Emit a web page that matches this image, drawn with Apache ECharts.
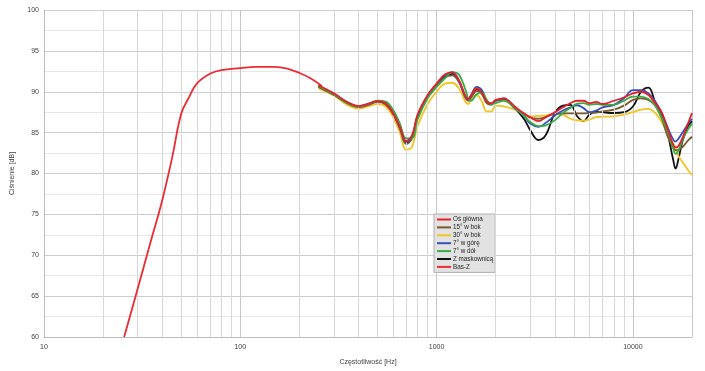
<!DOCTYPE html>
<html><head><meta charset="utf-8">
<script src="https://cdn.jsdelivr.net/npm/echarts@6/dist/echarts.min.js"></script>
<style>html,body{margin:0;padding:0;background:#fff}#c{width:705px;height:371px}</style>
</head><body><div id="c"></div>
<script>
// frequencies [Hz] shared by the measured-off-axis curves
var freqs = [250,300,350,400,450,500,550,600,650,700,750,800,900,1000,1100,1200,1300,1400,1450,1500,1600,1700,1800,1900,2000,2200,2500,2800,3000,3300,3600,4000,4400,4800,5200,5600,6000,6500,7000,8000,9000,10000,11000,12000,13000,14000,15000,16000,16500,17000,18000,19000,20000];
var osGlowna = [90.8,89.8,88.75,88.25,88.55,88.85,88.6,87.4,85.7,84.0,84.7,87.2,89.6,91.0,92.1,92.4,91.4,89.5,89.1,89.6,90.4,89.9,88.8,88.6,89.0,89.2,88.2,87.3,86.9,86.4,86.9,87.5,88.1,88.6,88.9,88.9,88.6,88.75,88.5,88.9,89.3,89.8,90.0,89.6,88.6,87.5,85.5,83.6,83.2,83.3,84.5,86.0,87.4];
var bok15 = [90.6,89.6,88.6,88.1,88.4,88.75,88.45,87.3,85.5,83.6,84.3,86.9,89.4,90.7,91.7,92.0,91.2,89.3,88.9,89.3,90.1,89.7,88.6,88.4,88.9,89.0,88.0,87.3,86.8,86.7,86.9,87.3,87.35,87.35,87.35,87.35,87.4,87.45,87.6,87.8,88.3,89.0,89.2,89.0,88.3,86.8,84.6,83.2,82.85,82.9,83.3,84.0,84.5];
var bok30 = [90.4,89.5,88.4,87.95,88.2,88.5,88.2,86.9,85.0,82.9,83.3,85.8,88.5,90.0,91.0,91.1,90.4,88.8,88.5,89.0,89.6,88.8,87.6,87.6,88.3,88.2,87.8,87.3,87.0,87.05,87.1,87.3,87.2,86.7,86.5,86.45,86.6,86.9,86.95,87.0,87.2,87.5,87.8,87.9,87.4,86.3,85.0,83.7,83.0,82.2,81.3,80.5,79.8];
var gora7 = [90.7,89.7,88.7,88.2,88.5,88.8,88.6,87.4,85.6,83.9,84.5,87.0,89.5,90.9,92.0,92.3,91.3,89.4,89.0,89.6,90.6,90.2,88.9,88.5,88.9,89.2,88.0,87.0,86.1,85.7,86.2,87.1,87.7,88.1,88.35,88.0,87.5,87.7,88.1,88.4,89.2,90.2,90.2,89.8,88.8,87.4,85.7,84.2,83.9,84.2,85.1,86.0,86.7];
var dol7 = [90.7,89.7,88.7,88.2,88.5,88.9,88.8,87.8,86.1,84.3,84.3,86.6,89.2,90.6,91.6,92.4,92.1,90.3,89.2,88.9,89.7,89.9,89.0,88.5,88.6,88.9,88.1,87.0,86.3,85.8,85.9,86.5,87.4,88.0,88.55,88.6,88.4,88.5,88.4,88.4,88.9,89.4,89.4,89.1,88.3,86.8,85.2,83.2,82.4,82.7,84.2,85.3,86.1];
var maskownica = [90.6,89.7,88.7,88.2,88.5,88.8,88.5,87.3,85.5,83.8,84.4,87.0,89.4,90.8,91.8,92.2,91.3,89.4,89.0,89.5,90.3,89.9,88.7,88.5,88.9,89.1,88.0,86.6,85.3,84.1,84.7,87.4,88.3,88.4,87.0,86.4,87.2,87.6,87.5,87.4,87.5,88.2,90.0,90.5,88.7,87.3,85.0,81.8,80.6,81.6,84.2,85.7,86.4];
// Bas-Z (low-frequency part)
var freqsBas = [25.6,30,35,40,45,50,55,60,70,80,100,120,150,175,200,230,260];
var basZ = [60,65.9,71.7,76.7,82.0,87.3,89.4,91.0,92.2,92.65,92.9,93.05,93.05,92.8,92.3,91.6,90.7];
// minor vertical grid frequencies
var minorGrid = [20,30,40,50,60,70,80,90,200,300,400,500,600,700,800,900,2000,3000,4000,5000,6000,7000,8000,9000];
var seriesNames = ['Oś główna','15° w bok','30° w bok','7° w górę','7° w dół','Z maskownicą','Bas-Z'];
var seriesColors = ['#e5202b','#7b5a2e','#f2c522','#3652b8','#3bab45','#111111','#ec2b34'];

function pairs(xs, ys){ return xs.map(function(x,i){ return [x, ys[i]]; }); }
var datasets = [pairs(freqs,osGlowna), pairs(freqs,bok15), pairs(freqs,bok30), pairs(freqs,gora7), pairs(freqs,dol7), pairs(freqs,maskownica), pairs(freqsBas,basZ)];
var zOrder = [9,4,3,5,6,2,8];

var series = datasets.map(function(d,i){
  return {name: seriesNames[i], type:'line', data:d, smooth:0.4, showSymbol:false, symbol:'none',
    z: zOrder[i], lineStyle:{color:seriesColors[i], width:1.8}, itemStyle:{color:seriesColors[i]}};
});
series.unshift({name:'grid', type:'line', data:[[10,60]], showSymbol:false, symbol:'none', z:0, silent:true,
  lineStyle:{opacity:0},
  markLine:{silent:true, symbol:'none', label:{show:false}, animation:false,
    lineStyle:{color:'#d8d8d8', width:1, type:'solid'},
    data: minorGrid.map(function(f){ return {xAxis:f}; })}});

var chart = echarts.init(document.getElementById('c'), null, {renderer:'canvas'});
chart.setOption({
  animation:false,
  backgroundColor:'#ffffff',
  grid:{left:44, right:13, top:10, bottom:34, containLabel:false},
  legend:{data:seriesNames, orient:'vertical', left:434, top:214, icon:'rect', itemWidth:14, itemHeight:2,
    itemGap:0.9, padding:[2,2,2,3], backgroundColor:'#e2e2e2', borderColor:'#b0b0b0', borderWidth:1,
    textStyle:{fontSize:6.3, lineHeight:7, color:'#222', fontFamily:'Liberation Sans', padding:[0,0,0,-3]}},
  xAxis:{type:'log', logBase:10, min:10, max:20000,
    name:'Częstotliwość [Hz]', nameLocation:'middle', nameGap:22,
    nameTextStyle:{fontSize:7, color:'#444', fontFamily:'Liberation Sans'},
    axisLine:{lineStyle:{color:'#bdbdbd'}}, axisTick:{show:false},
    axisLabel:{fontSize:7, color:'#444', margin:7, fontFamily:'Liberation Sans',
      formatter:function(v){ var l=Math.log10(v); return Math.abs(l-Math.round(l))<1e-6 ? String(Math.round(v)) : ''; }},
    splitLine:{show:true, lineStyle:{color:'#c6c6c6', width:1}}},
  yAxis:{type:'value', min:60, max:100, interval:5,
    name:'Ciśnienie [dB]', nameLocation:'middle', nameGap:28,
    nameTextStyle:{fontSize:7, color:'#444', fontFamily:'Liberation Sans'},
    axisLine:{show:true, lineStyle:{color:'#bdbdbd'}}, axisTick:{show:false},
    axisLabel:{fontSize:7, color:'#444', margin:5, fontFamily:'Liberation Sans'},
    splitLine:{show:true, lineStyle:{color:'#cdcdcd', width:1}},
    minorTick:{show:false, splitNumber:2},
    minorSplitLine:{show:true, lineStyle:{color:'#e8e8e8', width:1}}},
  series: series
});
</script></body></html>
